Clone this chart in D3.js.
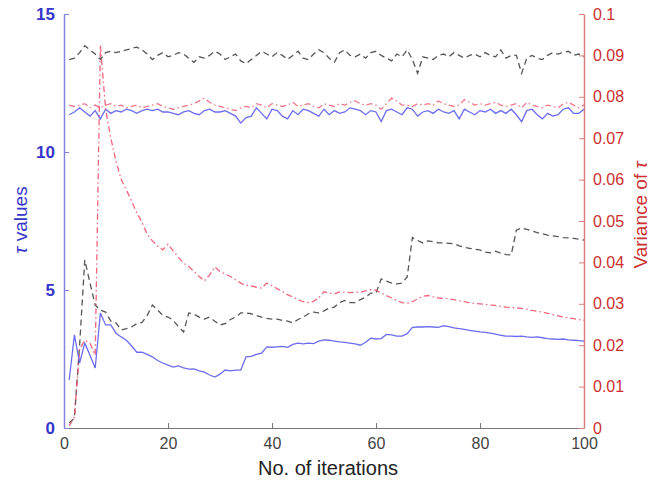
<!DOCTYPE html>
<html>
<head>
<meta charset="utf-8">
<script src="https://cdn.jsdelivr.net/npm/d3@7"></script>
<style>
body { margin: 0; background: #fff; }
svg text { font-family: "Liberation Sans", Arial, sans-serif; }
</style>
</head>
<body>
<script>
// chart size and margins (MATLAB style double y axis)
var width = 667, height = 486;
var left_pad = 64, right_pad = 83, top_pad = 14, bottom_pad = 58;
var plot_w = width - left_pad - right_pad, plot_h = height - top_pad - bottom_pad;

// iterations 1..100
var iterations = d3.range(1, 101);
var x_ticks = [0, 20, 40, 60, 80, 100];
var left_ticks = [0, 5, 10, 15];
var right_ticks = [0, 0.01, 0.02, 0.03, 0.04, 0.05, 0.06, 0.07, 0.08, 0.09, 0.1];
var right_tick_labels = ['0', '0.01', '0.02', '0.03', '0.04', '0.05', '0.06', '0.07', '0.08', '0.09', '0.1'];

// tau values (left axis)
var tau_blue = [11.35, 11.45, 11.6, 11.45, 11.3, 11.5, 11.2, 11.55, 11.4, 11.5,
	11.45, 11.55, 11.5, 11.4, 11.5, 11.55, 11.5, 11.55, 11.45, 11.45,
	11.4, 11.35, 11.45, 11.5, 11.4, 11.35, 11.5, 11.55, 11.45, 11.45,
	11.5, 11.4, 11.3, 11.05, 11.25, 11.3, 11.6, 11.4, 11.2, 11.55,
	11.5, 11.3, 11.2, 11.5, 11.35, 11.55, 11.5, 11.4, 11.3, 11.55,
	11.35, 11.5, 11.4, 11.45, 11.6, 11.55, 11.5, 11.35, 11.5, 11.45,
	11.1, 11.5, 11.55, 11.45, 11.35, 11.6, 11.55, 11.3, 11.45, 11.5,
	11.4, 11.55, 11.45, 11.4, 11.5, 11.2, 11.55, 11.45, 11.35, 11.5,
	11.45, 11.55, 11.4, 11.5, 11.4, 11.55, 11.35, 11.1, 11.5, 11.55,
	11.35, 11.2, 11.4, 11.3, 11.35, 11.55, 11.6, 11.4, 11.4, 11.55];
var tau_red = [11.7, 11.65, 11.7, 11.75, 11.6, 11.7, 11.6, 11.7, 11.75, 11.65,
	11.7, 11.6, 11.65, 11.7, 11.6, 11.65, 11.7, 11.75, 11.65, 11.6,
	11.55, 11.6, 11.65, 11.7, 11.75, 11.85, 11.95, 11.8, 11.7, 11.65,
	11.6, 11.55, 11.5, 11.6, 11.65, 11.6, 11.75, 11.7, 11.6, 11.75,
	11.7, 11.65, 11.7, 11.8, 11.65, 11.7, 11.75, 11.65, 11.6, 11.75,
	11.7, 11.65, 11.75, 11.7, 11.8, 11.85, 11.75, 11.7, 11.75, 11.7,
	11.55, 11.75, 11.95, 11.85, 11.7, 11.7, 11.65, 11.75, 11.7, 11.75,
	11.7, 11.85, 11.75, 11.7, 11.65, 11.7, 11.9, 11.8, 11.7, 11.75,
	11.7, 11.75, 11.8, 11.7, 11.65, 11.7, 11.75, 11.6, 11.8, 11.7,
	11.65, 11.6, 11.7, 11.65, 11.6, 11.75, 11.8, 11.7, 11.6, 11.7];
var tau_black = [13.35, 13.4, 13.6, 13.85, 13.7, 13.55, 13.35, 13.6, 13.65, 13.6,
	13.65, 13.7, 13.75, 13.8, 13.7, 13.55, 13.35, 13.5, 13.6, 13.45,
	13.5, 13.6, 13.55, 13.4, 13.25, 13.45, 13.4, 13.5, 13.65, 13.55,
	13.35, 13.45, 13.55, 13.3, 13.2, 13.35, 13.5, 13.65, 13.55, 13.45,
	13.6, 13.5, 13.35, 13.5, 13.65, 13.4, 13.35, 13.55, 13.7, 13.6,
	13.4, 13.25, 13.6, 13.7, 13.5, 13.45, 13.55, 13.4, 13.6, 13.65,
	13.5, 13.4, 13.3, 13.55, 13.45, 13.7, 13.35, 12.85, 13.45, 13.4,
	13.35, 13.5, 13.55, 13.45, 13.6, 13.5, 13.4, 13.5, 13.55, 13.45,
	13.6, 13.5, 13.45, 13.7, 13.4, 13.5, 13.5, 12.85, 13.4, 13.5,
	13.4, 13.35, 13.5, 13.6, 13.55, 13.6, 13.65, 13.5, 13.55, 13.45];

// variance of tau (right axis)
var var_blue = [0.0116, 0.0225, 0.0157, 0.0205, 0.0176, 0.0145, 0.0278, 0.0249, 0.0249, 0.0229,
	0.022, 0.0212, 0.0198, 0.0183, 0.0183, 0.0178, 0.0172, 0.0163, 0.0157, 0.0152,
	0.0147, 0.015, 0.0145, 0.0142, 0.0143, 0.0138, 0.0135, 0.0128, 0.0123, 0.013,
	0.014, 0.0138, 0.014, 0.014, 0.0172, 0.0173, 0.0178, 0.0181, 0.0196, 0.0195,
	0.0196, 0.0197, 0.0195, 0.0202, 0.0205, 0.0203, 0.0205, 0.0204, 0.021, 0.0213,
	0.0212, 0.021, 0.0208, 0.0207, 0.0205, 0.0203, 0.02, 0.0207, 0.0217, 0.0215,
	0.0216, 0.0226, 0.0225, 0.0222, 0.0222, 0.0228, 0.0243, 0.0244, 0.0244, 0.0245,
	0.0244, 0.0243, 0.0247, 0.0245, 0.0242, 0.024, 0.0238, 0.0236, 0.0234, 0.0232,
	0.0231, 0.0229, 0.0227, 0.0224, 0.0222, 0.0222, 0.0221, 0.0222, 0.022, 0.0219,
	0.022, 0.0218, 0.0216, 0.0215, 0.0214, 0.0215, 0.0213, 0.0212, 0.0211, 0.021];
var var_red = [0.0005, 0.0027, 0.019, 0.0212, 0.0205, 0.0176, 0.0925, 0.077, 0.07, 0.0645,
	0.06, 0.0575, 0.0548, 0.052, 0.0497, 0.0468, 0.0452, 0.044, 0.043, 0.0444,
	0.0428, 0.0412, 0.0398, 0.039, 0.0378, 0.0366, 0.0355, 0.037, 0.0389, 0.0378,
	0.0372, 0.0366, 0.0358, 0.035, 0.0345, 0.0343, 0.034, 0.0338, 0.035, 0.0344,
	0.0336, 0.033, 0.0322, 0.0316, 0.031, 0.0305, 0.0303, 0.0306, 0.0315, 0.0329,
	0.0326, 0.0324, 0.0329, 0.0328, 0.0327, 0.0328, 0.0328, 0.0331, 0.0334, 0.0333,
	0.0326, 0.032, 0.0314, 0.0308, 0.0303, 0.0301, 0.0305, 0.0312, 0.0318, 0.032,
	0.0317, 0.0314, 0.0313, 0.0312, 0.031, 0.0307, 0.0305, 0.0302, 0.0301, 0.03,
	0.0299, 0.0297, 0.0296, 0.0294, 0.0292, 0.0291, 0.029, 0.0289, 0.0287, 0.0284,
	0.0282, 0.028, 0.0277, 0.0274, 0.0271, 0.0268, 0.0266, 0.0264, 0.0262, 0.026];
var var_black = [0.0012, 0.0024, 0.02, 0.0406, 0.035, 0.0297, 0.0285, 0.028, 0.0258, 0.0254,
	0.0237, 0.024, 0.0244, 0.0252, 0.0255, 0.0272, 0.0297, 0.0285, 0.0272, 0.0268,
	0.026, 0.0245, 0.0232, 0.0278, 0.0275, 0.0268, 0.0263, 0.0268, 0.0258, 0.0249,
	0.0252, 0.0262, 0.0268, 0.0278, 0.0278, 0.0276, 0.0272, 0.0268, 0.0265, 0.0263,
	0.0263, 0.026, 0.0258, 0.0254, 0.0262, 0.0268, 0.0276, 0.028, 0.0278, 0.0283,
	0.029, 0.0292, 0.0303, 0.0308, 0.0303, 0.0303, 0.031, 0.0316, 0.0326, 0.0326,
	0.036, 0.0355, 0.035, 0.0348, 0.035, 0.0365, 0.046, 0.0453, 0.0447, 0.0452,
	0.045, 0.0447, 0.0447, 0.0446, 0.0445, 0.044, 0.0436, 0.0434, 0.0432, 0.043,
	0.0425, 0.0423, 0.0427, 0.0422, 0.0419, 0.0418, 0.0478, 0.0483, 0.048, 0.0476,
	0.0472, 0.0469, 0.0466, 0.0464, 0.0462, 0.046, 0.0459, 0.0458, 0.0456, 0.0454];

var blue = '#5c5cf0', red = '#ee4a66', black = '#444';

function plot_it() {
	var svg = d3.select('body').append('svg').attr('width', width).attr('height', height)
	var g = svg.append('g').attr('transform', 'translate(' + left_pad + ',' + top_pad + ')')

	var xScale = d3.scaleLinear().domain([0, 100]).range([0, plot_w])
	var yLeft = d3.scaleLinear().domain([0, 15]).range([plot_h, 0])
	var yRight = d3.scaleLinear().domain([0, 0.1]).range([plot_h, 0])

	// bottom axis, ticks pointing in
	var xAxis = g.append('g').attr('transform', 'translate(0,' + plot_h + ')')
		.call(d3.axisBottom(xScale).tickValues(x_ticks).tickSizeInner(-5).tickSizeOuter(0).tickPadding(10))
	xAxis.select('.domain').attr('stroke', '#777')
	xAxis.selectAll('.tick line').attr('stroke', '#777')
	xAxis.selectAll('.tick text').attr('fill', '#444').attr('font-size', '16px')

	// left axis (blue)
	var lAxis = g.append('g')
		.call(d3.axisLeft(yLeft).tickValues(left_ticks).tickSizeInner(-5).tickSizeOuter(0).tickPadding(9))
	lAxis.select('.domain').attr('stroke', '#8484dc').attr('stroke-width', 1.5)
	lAxis.selectAll('.tick line').attr('stroke', '#8484dc')
	lAxis.selectAll('.tick text').attr('fill', '#3535cc').attr('font-size', '17px').attr('font-weight', 'bold')

	// right axis (red)
	var rAxis = g.append('g').attr('transform', 'translate(' + plot_w + ',0)')
		.call(d3.axisRight(yRight).tickValues(right_ticks).tickFormat(function(d, i) { return right_tick_labels[i] })
			.tickSizeInner(-5).tickSizeOuter(0).tickPadding(9))
	rAxis.select('.domain').attr('stroke', '#d88080').attr('stroke-width', 1.5)
	rAxis.selectAll('.tick line').attr('stroke', '#d88080')
	rAxis.selectAll('.tick text').attr('fill', '#cc3030').attr('font-size', '16px')

	var lineL = function(vals) {
		return d3.line().x(function(d, i) { return xScale(iterations[i]) }).y(function(d) { return yLeft(d) })(vals)
	}
	var lineR = function(vals) {
		return d3.line().x(function(d, i) { return xScale(iterations[i]) }).y(function(d) { return yRight(d) })(vals)
	}

	var series = [
		{ path: lineL(tau_black), color: black, dash: '6,4', op: 0.9 },
		{ path: lineL(tau_red), color: red, dash: '6,3,1.5,3', op: 0.75 },
		{ path: lineL(tau_blue), color: blue, dash: null, op: 0.9 },
		{ path: lineR(var_black), color: black, dash: '6,4', op: 0.9 },
		{ path: lineR(var_red), color: red, dash: '6,3,1.5,3', op: 0.85 },
		{ path: lineR(var_blue), color: blue, dash: null, op: 0.9 }
	]
	g.selectAll('.series').data(series).enter().append('path')
		.attr('class', 'series')
		.attr('d', function(d) { return d.path })
		.attr('fill', 'none')
		.attr('stroke', function(d) { return d.color })
		.attr('stroke-opacity', function(d) { return d.op })
		.attr('stroke-width', 1.3)
		.attr('stroke-dasharray', function(d) { return d.dash })

	// axis labels
	svg.append('text').attr('x', left_pad + plot_w / 2 + 4).attr('y', 475).attr('text-anchor', 'middle')
		.attr('fill', '#222').attr('font-size', '20px').text('No. of iterations')

	var lt = svg.append('text').attr('transform', 'translate(27,220) rotate(-90)').attr('text-anchor', 'middle')
		.attr('fill', '#3535cc').attr('font-size', '19px')
	lt.append('tspan').attr('font-style', 'italic').text('τ')
	lt.append('tspan').text(' values')

	var rt = svg.append('text').attr('transform', 'translate(647,215) rotate(-90)').attr('text-anchor', 'middle')
		.attr('fill', '#cc3030').attr('font-size', '19px')
	rt.append('tspan').text('Variance of ')
	rt.append('tspan').attr('font-style', 'italic').text('τ')
}

plot_it();
</script>
</body>
</html>
